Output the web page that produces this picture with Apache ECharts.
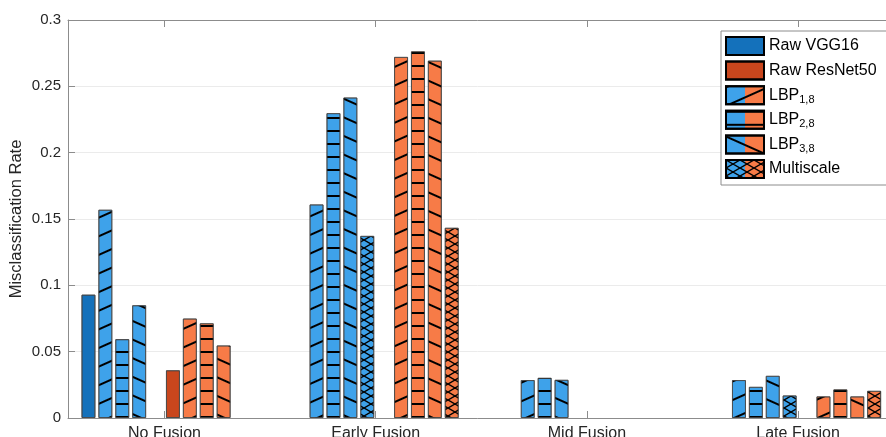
<!DOCTYPE html>
<html>
<head>
<meta charset="utf-8">
<script src="https://cdn.jsdelivr.net/npm/echarts@6/dist/echarts.min.js"></script>
<style>
  html, body { margin: 0; padding: 0; background: #fff; }
  #main { width: 886px; height: 437px; }
</style>
</head>
<body>
<div id="main"></div>
<script>
// categories and values
var categories = ['No Fusion', 'Early Fusion', 'Mid Fusion', 'Late Fusion'];
var vggRaw   = [0.093, null, null, null];
var vggLbp18 = [0.157, 0.161, 0.0286, 0.0286];
var vggLbp28 = [0.0594, 0.2298, 0.0303, 0.0235];
var vggLbp38 = [0.085, 0.2416, 0.0288, 0.0318];
var vggMulti = [null, 0.1373, null, 0.017];
var resRaw   = [0.036, null, null, null];
var resLbp18 = [0.075, 0.2722, null, 0.0163];
var resLbp28 = [0.0714, 0.2764, null, 0.0216];
var resLbp38 = [0.0547, 0.2694, null, 0.0163];
var resMulti = [null, 0.1434, null, 0.0205];
var legendNames = ['Raw VGG16', 'Raw ResNet50', 'LBP1,8', 'LBP2,8', 'LBP3,8', 'Multiscale'];
var yMax = 0.3, yStep = 0.05;

var BLUE_RAW = '#1471bb', ORANGE_RAW = '#c9461d';
var BLUE = '#3ea2ea', ORANGE = '#f77b47';

// hatch patterns
var hatch = {
  lbp18: { symbol: 'rect', symbolSize: 1, dashArrayX: [1, 0], dashArrayY: [2, 15], rotation: -0.42, color: '#000' },
  lbp28: { symbol: 'rect', symbolSize: 1, dashArrayX: [1, 0], dashArrayY: [2, 11], rotation: 0, color: '#000' },
  lbp38: { symbol: 'rect', symbolSize: 1, dashArrayX: [1, 0], dashArrayY: [2, 15], rotation: 0.42, color: '#000' },
  multi: {
    symbol: 'path://M0,0L10,0L100,90L100,100L90,100L0,10ZM100,0L100,10L10,100L0,100L0,90L90,0Z',
    symbolSize: 1, symbolKeepAspect: false, dashArrayX: [14, 0], dashArrayY: [8, 0], color: '#000'
  }
};

function bar(name, data, color, decal) {
  return {
    name: name, type: 'bar', data: data,
    xAxisIndex: 2, yAxisIndex: 1,
    barWidth: 14, barGap: '20.7%',
    itemStyle: { color: color, borderColor: 'rgba(70,70,70,0.75)', borderWidth: 1, decal: decal || { symbol: 'none' } },
    emphasis: { disabled: true }
  };
}

var split = function (a, b) {
  return new echarts.graphic.LinearGradient(0, 0, 1, 0, [
    { offset: 0, color: a }, { offset: 0.5, color: a },
    { offset: 0.5, color: b }, { offset: 1, color: b }
  ]);
};

var chart = echarts.init(document.getElementById('main'));
var font = 'Liberation Sans, Arial, sans-serif';
var legendItem = function (name, color) {
  return { name: name, icon: 'rect', itemStyle: { color: color, borderColor: '#000', borderWidth: 2 } };
};

chart.setOption({
  animation: false,
  textStyle: { fontFamily: font },
  grid: [
    { left: 68, right: -18, top: 20, bottom: 19, outerBoundsMode: 'none', containLabel: false },
    { left: 58.9, right: -17.7, top: 20, bottom: 19, outerBoundsMode: 'none', containLabel: false }
  ],
  xAxis: [
    { gridIndex: 0, type: 'value', position: 'bottom', min: 0, max: 1,
      axisLine: { show: true, lineStyle: { color: '#8c8c8c' } },
      axisTick: { show: false }, axisLabel: { show: false }, splitLine: { show: false } },
    { gridIndex: 0, type: 'value', position: 'top', min: 0, max: 1,
      axisLine: { show: true, lineStyle: { color: '#8c8c8c' } },
      axisTick: { show: false }, axisLabel: { show: false }, splitLine: { show: false } },
    { gridIndex: 1, type: 'category', position: 'bottom', data: categories,
      axisLine: { show: false },
      axisTick: { show: true, inside: true, alignWithLabel: true, length: 7, lineStyle: { color: '#8c8c8c' } },
      axisLabel: { color: '#262626', fontSize: 16, margin: 8 } },
    { gridIndex: 1, type: 'category', position: 'top', data: categories,
      axisLine: { show: false },
      axisTick: { show: true, inside: true, alignWithLabel: true, length: 7, lineStyle: { color: '#8c8c8c' } },
      axisLabel: { show: false } }
  ],
  yAxis: [
    { gridIndex: 0, type: 'value', min: 0, max: yMax, interval: yStep,
      name: 'Misclassification Rate', nameLocation: 'middle', nameGap: 43, nameMoveOverlap: false,
      nameTextStyle: { color: '#262626', fontSize: 16.5 },
      axisLine: { show: true, lineStyle: { color: '#8c8c8c' } },
      axisTick: { show: true, inside: true, length: 7, lineStyle: { color: '#8c8c8c' } },
      axisLabel: { color: '#262626', fontSize: 15, margin: 7 },
      splitLine: { show: true, lineStyle: { color: '#ebebeb' } } },
    { gridIndex: 1, type: 'value', min: 0, max: yMax, show: false, splitLine: { show: false } }
  ],
  legend: {
    orient: 'vertical', left: 721, top: 31,
    padding: [5, 16, 6, 4], itemGap: 4.6, itemWidth: 38, itemHeight: 18,
    backgroundColor: '#fff', borderColor: '#8c8c8c', borderWidth: 1, borderRadius: 0,
    selectedMode: false,
    textStyle: {
      color: '#000', fontSize: 16, lineHeight: 19,
      rich: { sub: { fontSize: 11, lineHeight: 11, padding: [9, 0, 0, 0] } }
    },
    formatter: function (n) {
      return n.indexOf('LBP') === 0 ? 'LBP{sub|' + n.slice(3) + '}' : n;
    },
    data: [
      legendItem(legendNames[0], BLUE_RAW),
      legendItem(legendNames[1], ORANGE_RAW),
      legendItem(legendNames[2], split(BLUE, ORANGE)),
      legendItem(legendNames[3], split(BLUE, ORANGE)),
      legendItem(legendNames[4], split(BLUE, ORANGE)),
      legendItem(legendNames[5], split(BLUE, ORANGE))
    ]
  },
  series: [
    bar('Raw VGG16', vggRaw, BLUE_RAW),
    bar('LBP1,8', vggLbp18, BLUE, hatch.lbp18),
    bar('LBP2,8', vggLbp28, BLUE, hatch.lbp28),
    bar('LBP3,8', vggLbp38, BLUE, hatch.lbp38),
    bar('Multiscale', vggMulti, BLUE, hatch.multi),
    bar('Raw ResNet50', resRaw, ORANGE_RAW),
    bar('LBP1,8', resLbp18, ORANGE, hatch.lbp18),
    bar('LBP2,8', resLbp28, ORANGE, hatch.lbp28),
    bar('LBP3,8', resLbp38, ORANGE, hatch.lbp38),
    bar('Multiscale', resMulti, ORANGE, hatch.multi)
  ]
});
</script>
</body>
</html>
